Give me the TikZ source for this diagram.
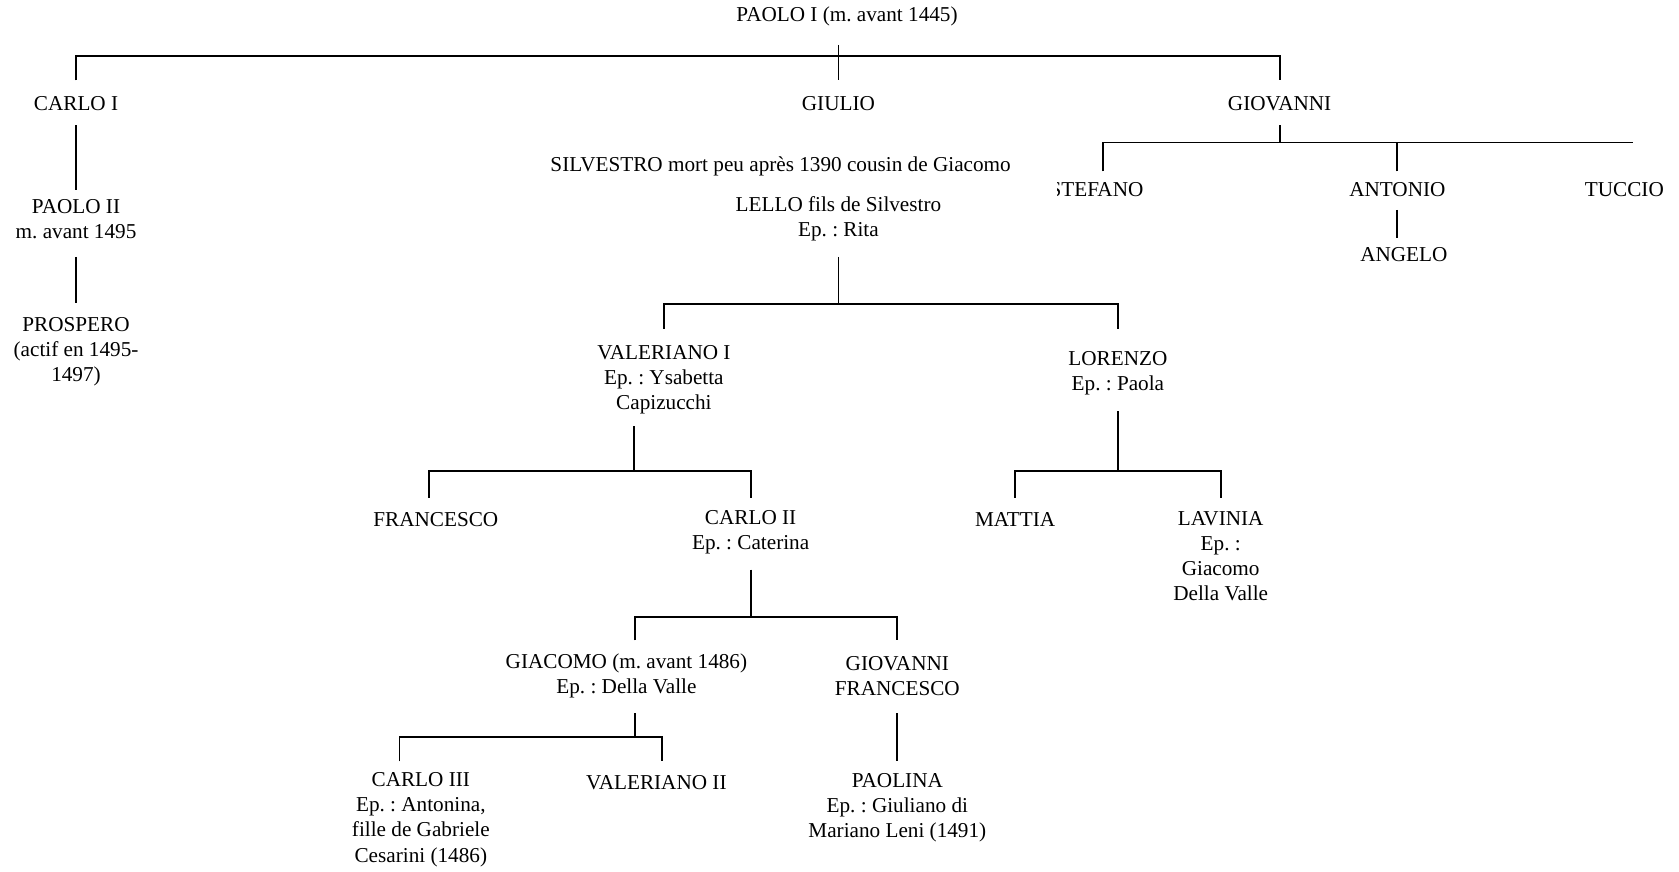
\documentclass[tikz,border=0pt]{standalone}
\usepackage{fontspec}
\setmainfont{Liberation Serif}
\frenchspacing
\begin{document}
\begin{tikzpicture}[x=0.5pt,y=-0.5pt,
  person/.style={align=center,inner sep=0pt,font=\fontsize{9.9pt}{11.7pt}\selectfont\frenchspacing},
  link/.style={draw=black,line width=0.85pt}]
\useasboundingbox (0,0) rectangle (1568,814);
% people
\node[person] (paoloI) at (791,15) {PAOLO I (m. avant 1445)};
\node[person] (carloI) at (71,97) {CARLO I};
\node[person] (giulio) at (783,97) {GIULIO};
\node[person] (giovanni) at (1195,97) {GIOVANNI};
\node[person] (silvestro) at (729,155) {SILVESTRO mort peu après 1390 cousin de Giacomo};
\node[person] (lello) at (783,204.5) {LELLO fils de Silvestro\\Ep. : Rita};
\begin{scope}
  \clip (988,160) rectangle (1100,200);
  \node[person] (stefano) at (1024,177) {STEFANO};
\end{scope}
\node[person] (antonio) at (1305,177) {ANTONIO};
\node[person] (tuccio) at (1517,177) {TUCCIO};
\node[person] (angelo) at (1311,238) {ANGELO};
\node[person] (paoloII) at (71,204.5) {PAOLO II\\m. avant 1495};
\node[person] (prospero) at (71,328.5) {PROSPERO\\(actif en 1495-\\1497)};
\node[person] (valerianoI) at (620,354.5) {VALERIANO I\\Ep. : Ysabetta\\Capizucchi};
\node[person] (lorenzo) at (1044,348.5) {LORENZO\\Ep. : Paola};
\node[person] (francesco) at (407,485) {FRANCESCO};
\node[person] (carloII) at (701,497) {CARLO II\\Ep. : Caterina};
\node[person] (mattia) at (948,485) {MATTIA};
\node[person] (lavinia) at (1140,519.5) {LAVINIA\\Ep. :\\Giacomo\\Della Valle};
\node[person] (giacomo) at (585,631) {GIACOMO (m. avant 1486)\\Ep. : Della Valle};
\node[person] (giovfr) at (838,631) {GIOVANNI\\FRANCESCO};
\node[person] (carloIII) at (393,765.5) {CARLO III\\Ep. : Antonina,\\fille de Gabriele\\Cesarini (1486)};
\node[person] (valerianoII) at (613,731) {VALERIANO II};
\node[person] (paolina) at (838,754) {PAOLINA\\Ep. : Giuliano di\\Mariano Leni (1491)};
% connector points
\coordinate (p0a) at (783,42);   \coordinate (p0b) at (783,75);
\coordinate (c1) at (71,75);     \coordinate (c3) at (1195,75);
\coordinate (c1d) at (71,117);   \coordinate (c1e) at (71,177);
\coordinate (c2d) at (71,240);   \coordinate (c2e) at (71,283);
\coordinate (g0) at (1195,117);  \coordinate (g1) at (1030,160);
\coordinate (g2) at (1305,160);  \coordinate (g3) at (1525,133);
\coordinate (a0) at (1305,196);  \coordinate (a1) at (1305,222);
\coordinate (l0) at (783,240);   \coordinate (l1) at (620,307);   \coordinate (l2) at (1044,307);
\coordinate (v0) at (592,398);   \coordinate (v1) at (401,465);   \coordinate (v2) at (701,465);
\coordinate (r0) at (1044,384);  \coordinate (r1) at (948,465);   \coordinate (r2) at (1140,465);
\coordinate (k0) at (701,532);   \coordinate (k1) at (593,598);   \coordinate (k2) at (838,598);
\coordinate (m0) at (593,666);   \coordinate (m1) at (373,711);   \coordinate (m2) at (618,711);
\coordinate (f0) at (838,666);   \coordinate (f1) at (838,711);
% connectors
\draw[link] (c1) -- (c1 |- 0,52) -- (c3 |- 0,52) -- (c3);
\draw[link] (p0a) -- (p0b);
\draw[link] (c1d) -- (c1e);
\draw[link] (c2d) -- (c2e);
\draw[link] (g0) -- (g0 |- 0,133);
\draw[link] (g1) -- (g1 |- 0,133) -- (g3);
\draw[link] (g2) -- (g2 |- 0,133);
\draw[link] (a0) -- (a1);
\draw[link] (l0) -- (l0 |- 0,284);
\draw[link] (l1) -- (l1 |- 0,284) -- (l2 |- 0,284) -- (l2);
\draw[link] (v0) -- (v0 |- 0,440);
\draw[link] (v1) -- (v1 |- 0,440) -- (v2 |- 0,440) -- (v2);
\draw[link] (r0) -- (r0 |- 0,440);
\draw[link] (r1) -- (r1 |- 0,440) -- (r2 |- 0,440) -- (r2);
\draw[link] (k0) -- (k0 |- 0,576);
\draw[link] (k1) -- (k1 |- 0,576) -- (k2 |- 0,576) -- (k2);
\draw[link] (m0) -- (m0 |- 0,688);
\draw[link] (m1) -- (m1 |- 0,688) -- (m2 |- 0,688) -- (m2);
\draw[link] (f0) -- (f1);
\end{tikzpicture}
\end{document}
